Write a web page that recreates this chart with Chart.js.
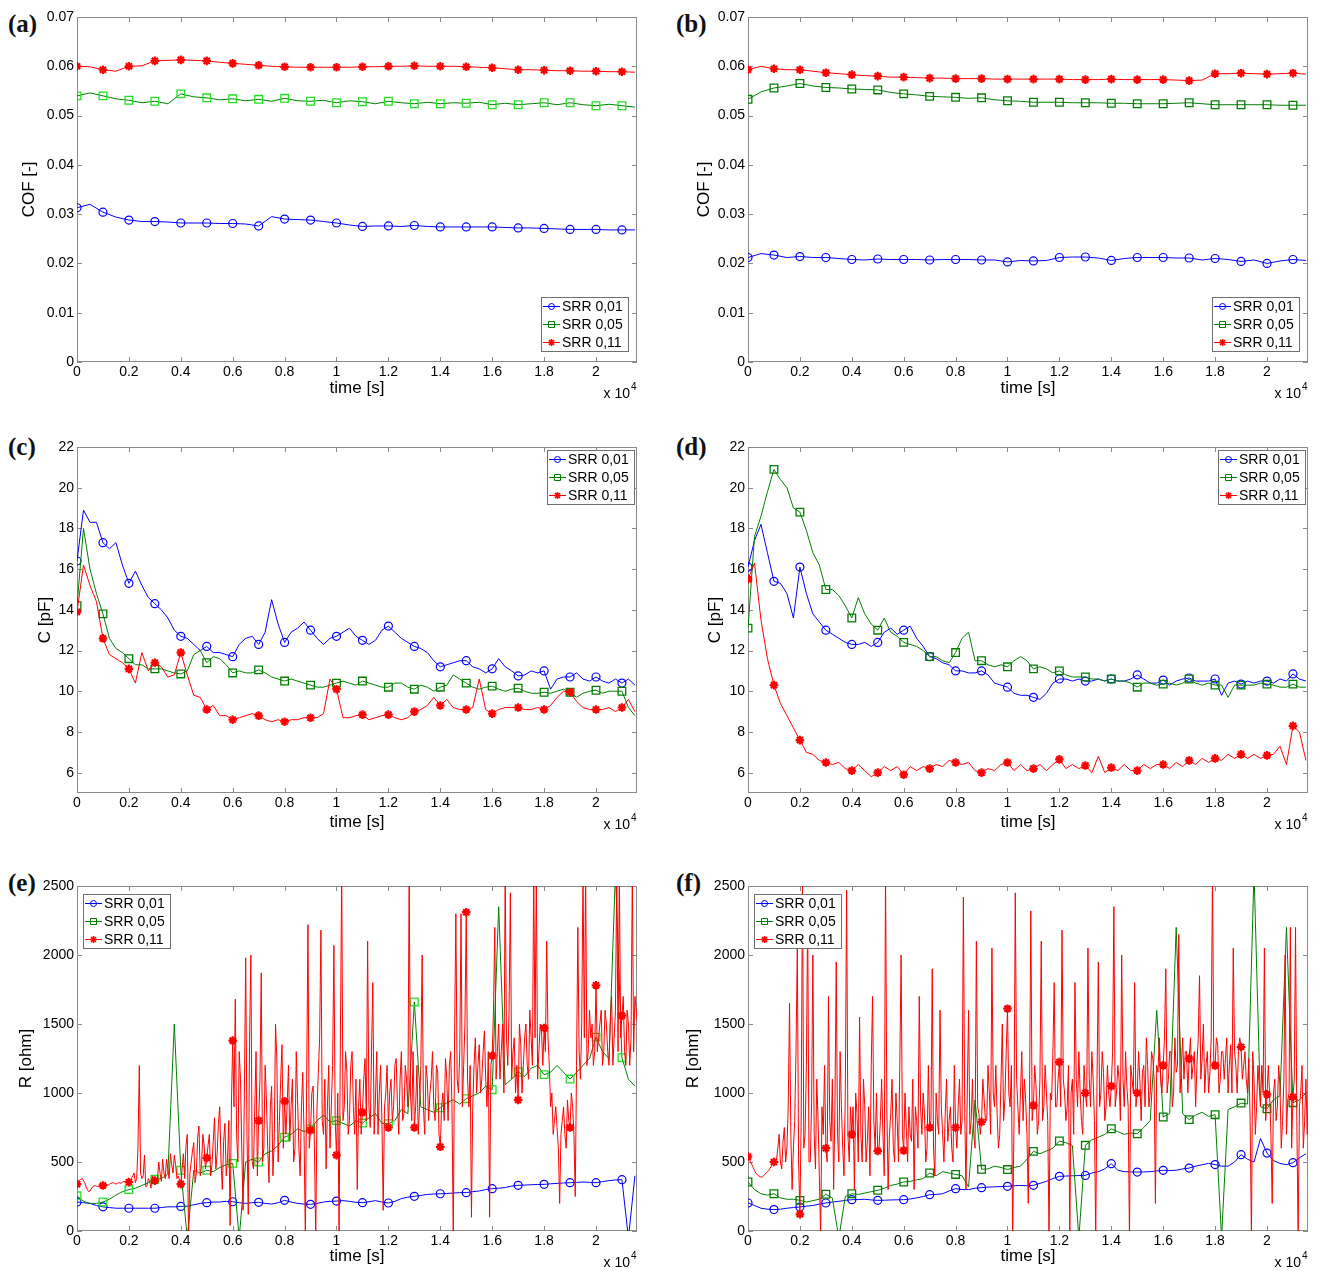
<!DOCTYPE html>
<html>
<head>
<meta charset="utf-8">
<title>COF, C and R versus time</title>
<script src="https://cdn.jsdelivr.net/npm/chart.js@4.4.1/dist/chart.umd.min.js"></script>
<style>
  html, body { margin: 0; padding: 0; background: #fff; overflow: hidden; }
  #page { position: relative; width: 1317px; height: 1271px; }
  canvas { position: absolute; }
  .tag { position: absolute; font: bold 25px 'Liberation Serif', 'Times New Roman', serif; line-height: 1; color: #111; }
</style>
</head>
<body>
<div id="page">
  <div class="tag" style="left:8px;top:11px">(a)</div>
  <div class="tag" style="left:676px;top:11px">(b)</div>
  <div class="tag" style="left:8px;top:434px">(c)</div>
  <div class="tag" style="left:676px;top:434px">(d)</div>
  <div class="tag" style="left:8px;top:870px">(e)</div>
  <div class="tag" style="left:676px;top:870px">(f)</div>
  <canvas id="chartA"></canvas>
  <canvas id="chartB"></canvas>
  <canvas id="chartC"></canvas>
  <canvas id="chartD"></canvas>
  <canvas id="chartE"></canvas>
  <canvas id="chartF"></canvas>
</div>
<script>
// sample spacing of the read-off values, in seconds
const STEP_COF = 500;
const STEP_CAP = 250;
const STEP_RES = 250;
const STEP_SPIKE = 50;
const X_MAX = 21580;

const seriesLabels = ['SRR 0,01', 'SRR 0,05', 'SRR 0,11'];
const timeTicks = [0, 2000, 4000, 6000, 8000, 10000, 12000, 14000, 16000, 18000, 20000];
const cofTicks = [0, 0.01, 0.02, 0.03, 0.04, 0.05, 0.06, 0.07];
const capTicks = [6, 8, 10, 12, 14, 16, 18, 20, 22];
const resTicks = [0, 500, 1000, 1500, 2000, 2500];

// (a) COF
const cofA_01 = [0.0313,0.0320,0.0304,0.0294,0.0288,0.0285,0.0285,0.0284,0.0282,0.0282,
  0.0282,0.0281,0.0281,0.0280,0.0276,0.0295,0.0290,0.0289,0.0288,0.0285,
  0.0282,0.0278,0.0275,0.0276,0.0276,0.0275,0.0277,0.0275,0.0274,0.0274,
  0.0274,0.0274,0.0274,0.0273,0.0272,0.0272,0.0271,0.0270,0.0269,0.0269,
  0.0269,0.0268,0.0268,0.0268];
const cofA_05 = [0.0540,0.0546,0.0540,0.0534,0.0531,0.0526,0.0529,0.0524,0.0544,0.0538,
  0.0536,0.0532,0.0534,0.0530,0.0533,0.0529,0.0535,0.0530,0.0529,0.0531,
  0.0526,0.0530,0.0528,0.0524,0.0529,0.0526,0.0524,0.0527,0.0524,0.0526,
  0.0525,0.0527,0.0522,0.0525,0.0522,0.0524,0.0526,0.0522,0.0526,0.0522,
  0.0520,0.0523,0.0520,0.0517];
const cofA_11 = [0.0600,0.0599,0.0593,0.0590,0.0600,0.0601,0.0611,0.0612,0.0613,0.0612,
  0.0611,0.0608,0.0606,0.0604,0.0602,0.0600,0.0599,0.0598,0.0598,0.0598,
  0.0598,0.0598,0.0599,0.0599,0.0600,0.0600,0.0601,0.0600,0.0600,0.0600,
  0.0599,0.0598,0.0597,0.0595,0.0593,0.0593,0.0592,0.0591,0.0591,0.0590,
  0.0590,0.0589,0.0589,0.0588];

// (b) COF
const cofB_01 = [0.0212,0.0220,0.0217,0.0212,0.0214,0.0212,0.0212,0.0210,0.0208,0.0207,
  0.0209,0.0208,0.0208,0.0208,0.0207,0.0208,0.0208,0.0208,0.0207,0.0207,
  0.0203,0.0206,0.0205,0.0206,0.0212,0.0213,0.0213,0.0211,0.0206,0.0210,
  0.0212,0.0212,0.0212,0.0211,0.0211,0.0207,0.0210,0.0208,0.0204,0.0207,
  0.0200,0.0205,0.0208,0.0206];
const cofB_05 = [0.0533,0.0548,0.0556,0.0560,0.0565,0.0560,0.0557,0.0556,0.0554,0.0553,
  0.0552,0.0547,0.0544,0.0542,0.0539,0.0538,0.0537,0.0535,0.0536,0.0532,
  0.0530,0.0529,0.0527,0.0527,0.0527,0.0526,0.0526,0.0526,0.0525,0.0525,
  0.0524,0.0524,0.0524,0.0525,0.0526,0.0524,0.0522,0.0522,0.0522,0.0522,
  0.0522,0.0521,0.0521,0.0521];
const cofB_11 = [0.0593,0.0600,0.0595,0.0593,0.0593,0.0590,0.0587,0.0585,0.0583,0.0581,
  0.0580,0.0578,0.0578,0.0577,0.0576,0.0576,0.0575,0.0575,0.0575,0.0574,
  0.0574,0.0574,0.0574,0.0574,0.0574,0.0573,0.0573,0.0573,0.0574,0.0573,
  0.0573,0.0573,0.0573,0.0572,0.0571,0.0572,0.0585,0.0585,0.0586,0.0585,
  0.0584,0.0585,0.0586,0.0584];

// (c) capacitance
const capC_01 = [16.4,18.9,18.3,18.3,17.3,17.0,17.3,16.2,15.3,15.9,
  15.2,14.6,14.3,14.0,13.6,13.0,12.7,12.6,12.3,12.0,
  12.2,11.9,11.9,11.8,11.7,12.3,12.6,12.7,12.3,12.9,
  14.5,13.3,12.4,12.9,13.1,13.4,13.0,12.6,12.3,12.6,
  12.7,12.9,13.1,12.7,12.5,12.3,12.5,13.0,13.2,12.9,
  12.6,12.4,12.2,12.1,11.9,11.5,11.2,11.3,11.4,11.5,
  11.5,11.2,11.1,10.9,11.1,11.6,11.2,11.0,10.75,10.8,
  11.0,10.9,11.0,10.1,10.6,10.7,10.7,10.9,10.6,10.5,
  10.7,10.5,10.4,10.6,10.4,10.6,10.3];
const capC_05 = [14.2,18.0,16.0,14.8,13.8,12.6,12.1,11.9,11.6,11.3,
  11.3,11.1,11.1,11.1,11.0,10.9,10.85,11.0,11.8,12.0,
  11.4,11.7,11.6,11.3,10.9,11.0,10.9,10.9,11.05,10.9,
  10.7,10.6,10.5,10.6,10.5,10.4,10.3,10.2,10.2,10.3,
  10.4,10.5,10.4,10.3,10.5,10.4,10.3,10.2,10.2,10.4,
  10.4,10.2,10.1,10.3,10.2,10.0,10.2,10.3,10.8,10.6,
  10.4,10.2,10.1,10.2,10.25,10.1,10.0,10.1,10.15,10.0,
  9.9,9.9,9.95,9.9,10.0,10.1,9.95,9.7,9.9,10.0,
  10.05,9.9,10.0,10.0,10.0,9.2,8.8];
const capC_11 = [13.9,16.2,15.2,14.4,12.6,11.8,11.6,11.4,11.1,10.4,
  11.9,11.0,11.4,11.2,10.7,10.8,11.9,10.8,9.8,9.7,
  9.1,9.3,8.8,8.8,8.6,8.7,8.8,8.9,8.8,8.6,
  8.5,8.6,8.5,8.6,8.6,8.7,8.7,8.7,8.9,10.6,
  10.1,8.7,8.7,8.8,8.85,8.6,8.7,8.8,8.85,8.7,
  8.6,8.7,9.0,9.1,9.3,9.7,9.3,9.6,9.2,9.1,
  9.1,9.2,10.6,9.1,8.9,9.1,9.2,9.2,9.2,9.1,
  9.1,9.2,9.1,9.3,9.7,10.0,9.95,9.5,9.2,9.1,
  9.1,9.1,9.2,9.0,9.2,9.6,9.0];

// (d) capacitance
const capD_01 = [16.1,17.4,18.2,16.8,15.4,15.3,14.8,13.6,16.1,14.8,
  13.8,13.4,13.0,12.8,12.6,12.4,12.3,12.3,12.4,12.2,
  12.4,12.9,13.1,12.8,13.0,13.2,12.6,12.2,11.7,11.6,
  11.4,11.3,11.0,11.0,10.9,10.9,11.0,10.8,10.4,10.3,
  10.2,9.9,9.8,9.8,9.7,9.6,9.9,10.4,10.6,10.6,
  10.5,10.6,10.5,10.5,10.6,10.5,10.6,10.5,10.5,10.6,
  10.8,10.6,10.4,10.4,10.55,10.3,10.5,10.6,10.65,10.5,
  10.5,10.5,10.6,9.8,10.4,10.5,10.35,10.5,10.4,10.5,
  10.5,10.4,10.6,10.5,10.85,10.6,10.5];
const capD_05 = [13.1,17.6,18.6,19.8,20.9,20.4,20.0,19.0,18.8,17.9,
  16.8,16.2,15.0,15.0,14.7,14.2,13.6,14.6,13.8,13.3,
  13.0,13.6,12.9,12.7,12.4,12.3,12.2,12.0,11.7,11.7,
  11.5,11.4,11.9,12.6,12.9,11.5,11.5,11.3,11.2,11.3,
  11.2,11.5,11.7,11.5,11.1,11.2,11.1,10.9,11.0,10.8,
  10.7,10.7,10.7,10.6,10.6,10.5,10.6,10.5,10.5,10.4,
  10.2,10.4,10.4,10.3,10.35,10.4,10.3,10.4,10.6,10.4,
  10.3,10.4,10.3,10.3,9.7,10.3,10.3,10.3,10.3,10.4,
  10.35,10.3,10.2,10.2,10.35,10.2,10.2];
const capD_11 = [15.5,16.3,13.5,11.6,10.3,9.4,8.8,8.2,7.6,7.0,
  6.9,6.6,6.5,6.4,6.5,6.2,6.1,6.4,6.1,5.8,
  6.0,6.3,6.1,6.3,5.9,6.3,6.1,6.3,6.2,6.4,
  6.3,6.6,6.5,6.4,6.5,6.1,6.0,6.2,6.1,6.4,
  6.5,6.1,6.4,6.1,6.2,6.4,6.1,6.4,6.65,6.2,
  6.4,6.2,6.35,6.0,6.8,6.0,6.25,6.1,6.4,6.1,
  6.1,6.4,6.2,6.4,6.4,6.2,6.5,6.3,6.6,6.4,
  6.7,6.5,6.7,6.6,6.9,6.7,6.9,6.7,6.9,6.7,
  6.85,6.9,7.3,6.4,8.3,8.0,6.6];

// (e) resistance
const resE_01 = [210,205,200,185,175,170,165,165,165,165,
  165,165,165,170,175,175,178,180,190,200,
  205,210,210,215,212,205,200,205,208,200,
  195,205,222,210,200,195,193,200,210,215,
  217,220,215,208,205,212,220,210,203,215,
  235,245,251,258,265,268,270,272,275,278,
  278,285,290,300,307,310,315,325,331,333,
  335,337,338,342,345,348,350,352,355,352,
  350,358,365,370,372,-50,400];
const resE_05 = [255,215,200,200,210,230,260,285,300,310,
  330,350,375,380,410,1500,440,-50,440,420,
  440,430,460,480,490,-50,500,520,500,560,
  580,620,680,700,740,720,740,800,840,790,
  800,780,760,800,782,820,850,780,778,800,
  880,850,1660,900,880,860,893,930,950,920,
  959,980,1000,1050,1024,2350,1060,1100,1152,1120,
  1180,1200,1133,1150,1200,1150,1101,1150,1200,1250,
  1405,1300,1250,2600,1256,1100,1050];
const resE_11 = [
  340,360,370,375,380,365,350,320,300,285,290,305,320,325,330,325,320,325,330,330,330,335,340,335,330,340,345,348,350,345,340,345,350,348,345,355,360,355,350,352,
  355,370,380,400,420,350,380,600,1200,420,380,400,550,320,330,380,360,310,400,380,365,360,380,500,420,360,520,420,380,520,450,380,560,480,420,550,480,380,400,370,
  340,450,560,380,620,700,-50,420,500,580,640,350,420,680,760,400,480,700,620,450,530,620,700,400,480,650,820,450,560,780,900,500,300,650,780,400,520,800,40,900,
  1380,900,1680,700,500,1300,1100,600,150,1000,1980,700,120,1400,2000,500,450,900,1300,400,800,1100,1870,500,600,1200,950,600,350,900,1050,400,650,1500,1250,500,800,1100,1350,600,
  940,700,920,1200,650,900,1100,500,600,1300,950,600,400,900,1150,700,-50,1100,2220,600,730,1000,1050,600,-50,900,1150,1400,2180,800,700,1100,450,900,1200,600,900,1200,2070,800,
  550,1000,-50,1400,2600,800,900,1300,1150,700,800,1200,1300,900,700,1100,300,900,1100,700,860,1100,1250,800,2100,900,750,1300,1800,700,950,1300,700,1000,1200,800,150,900,1000,1200,
  750,1000,1100,800,900,1200,1250,900,700,1100,1300,800,850,1200,1100,900,2600,1000,800,1300,750,900,1200,700,900,1200,2000,900,700,1200,1100,800,1000,1100,1300,900,800,1200,1150,700,
  610,900,1000,800,1250,1100,800,1200,1300,900,-50,1400,2300,1100,1000,1300,2300,900,1200,1500,2310,1100,900,1200,100,900,1200,1400,1000,1200,1350,1000,1100,1300,1450,1100,900,1300,100,1200,
  1270,1600,2200,1100,1300,1500,1100,1300,1500,1000,2600,1400,1200,1600,2450,1100,1300,1400,1000,1200,950,1500,1350,1000,1200,1400,1500,1200,1100,1600,1400,1200,2600,1400,2600,1100,1300,1500,1450,1200,
  1470,1300,2100,1400,1200,900,1000,700,800,900,750,600,200,700,800,900,700,600,950,800,750,1000,900,700,250,1200,2200,1300,1100,1500,2600,1400,2600,1200,1300,1600,1400,1500,1200,1300,
  1780,1300,1400,1500,1600,1200,1300,1600,1500,1300,1200,1500,1700,1200,1400,1600,2600,1300,2600,1400,1560,1700,1300,1200,1600,1500,1200,1400,2600,1300,1700,1600,1500];

// (f) resistance
const resF_01 = [203,185,165,158,155,158,165,170,174,180,
  185,195,203,210,215,222,227,228,230,225,
  222,223,225,226,227,232,240,250,263,265,
  270,290,307,300,300,310,314,318,320,322,
  324,328,330,328,331,345,360,380,396,398,
  400,402,403,420,430,450,488,440,430,428,
  427,428,430,435,440,438,440,450,456,470,
  480,490,481,470,470,500,553,520,500,670,
  565,510,490,480,495,530,560];
const resF_05 = [355,300,270,260,270,240,230,230,222,210,
  220,230,266,240,-50,250,270,265,275,285,
  295,310,330,340,355,360,370,380,420,400,
  430,420,410,400,320,950,447,450,470,460,
  445,460,470,520,577,560,580,600,652,640,
  620,-50,621,660,680,700,741,720,700,710,
  705,750,800,1600,826,850,2200,850,807,840,
  860,830,843,-50,880,900,927,920,2600,900,
  886,950,980,2200,930,950,1000];
const resF_11 = [
  540,520,500,480,460,440,420,410,400,395,390,392,400,410,420,430,440,455,470,485,500,510,520,600,700,500,450,650,750,500,600,900,1650,700,300,600,800,1300,2050,500,
  121,800,2600,600,700,1200,2300,500,500,900,2000,700,450,1100,800,400,-50,900,700,1200,600,500,1700,800,650,1100,300,900,1950,700,500,1300,900,600,400,1000,2470,700,500,900,
  700,900,300,1000,850,500,1550,700,500,1100,900,500,650,900,400,1200,1700,800,600,1000,580,600,800,1100,700,400,2600,900,300,700,850,1100,600,500,1000,800,500,1200,2000,700,
  584,1000,750,500,900,700,650,1100,300,900,800,600,1700,900,700,1000,850,500,600,1200,750,800,1900,600,400,1000,800,700,1600,900,700,500,850,1100,650,800,900,600,500,1200,
  750,600,900,1100,700,800,2420,900,300,1000,1600,700,800,1100,700,600,2100,900,850,700,790,1100,950,800,800,1200,1000,700,2050,1000,900,1200,850,600,700,1100,1500,800,950,1300,
  1611,1000,900,1200,-50,800,2450,1100,900,700,1000,1300,800,1100,950,700,200,1000,2320,800,910,1200,1050,700,800,1100,2100,800,900,1200,1000,800,-50,1000,950,1300,1800,900,900,1100,
  1224,900,2180,1100,1000,800,900,1200,-50,1000,1100,700,1800,1100,900,1300,1000,800,700,1200,1000,900,2050,1100,900,1300,1100,800,-50,1100,1950,900,1000,1300,1150,800,900,1200,1000,900,
  1050,1300,2350,900,1000,1200,1100,800,2000,1100,900,1300,1050,900,-50,1200,1100,1000,1800,900,1000,1300,1100,800,1150,1200,900,1400,1200,900,1000,1300,1250,1100,200,1200,1150,1400,1100,1000,
  1200,1400,1900,1000,1100,1300,1300,900,1000,1400,1150,1200,2150,1000,1200,1400,1100,1300,1300,1000,1249,1400,1100,1200,1300,900,1200,1400,1850,1100,1250,1500,1000,1200,1300,1000,1150,1400,2600,1200,
  1200,1400,1350,1000,1100,1300,1300,1100,1250,1400,1000,1200,1350,1000,2050,1300,1200,1000,1300,1400,1333,1100,1200,1300,1100,1000,1250,800,-50,1300,1100,700,900,1200,1050,900,1200,1000,2050,800,
  990,1200,1000,700,200,1000,1100,800,900,1200,1050,600,800,1100,2000,700,950,1000,2200,600,971,1100,2200,800,-50,900,1000,1200,600,800,1100,700,1000];

const TEXT = '#000';
const FRAME = '#8a8a8a';
const LIGHT_GREEN = '#22e022';
const styles = [
  { color: '#0000ff', pointStyle: 'circle', radius: 4, pointBorderWidth: 1.2, legendR: 3 },
  { color: '#007f00', pointStyle: 'rect', radius: 5.4, pointBorderWidth: 1.3, legendR: 3 },
  { color: '#ff0000', pointStyle: 'star', radius: 4.3, pointBorderWidth: 2.2, legendR: 3.5 }
];

Chart.defaults.font.family = '"Liberation Sans", Arial, sans-serif';
Chart.defaults.color = TEXT;

function drawMarker(ctx, style, x, y, r) {
  ctx.beginPath();
  if (style === 'circle') {
    ctx.arc(x, y, r, 0, Math.PI * 2);
  } else if (style === 'rect') {
    ctx.rect(x - r, y - r, 2 * r, 2 * r);
  } else {
    for (let k = 0; k < 4; k++) {
      const a = k * Math.PI / 4;
      ctx.moveTo(x - r * Math.cos(a), y - r * Math.sin(a));
      ctx.lineTo(x + r * Math.cos(a), y + r * Math.sin(a));
    }
  }
  ctx.stroke();
}

// box, inward ticks, boxed legend and the "x 10^4" exponent, MATLAB style
const matlabFrame = {
  id: 'matlabFrame',
  beforeDatasetsDraw(chart) {
    const { ctx, chartArea: a, scales: { x, y } } = chart;
    ctx.save();
    ctx.strokeStyle = FRAME;
    ctx.lineWidth = 1;
    ctx.beginPath();
    x.ticks.forEach(t => {
      const px = Math.round(x.getPixelForValue(t.value)) + 0.5;
      ctx.moveTo(px, a.top); ctx.lineTo(px, a.top + 5);
      ctx.moveTo(px, a.bottom); ctx.lineTo(px, a.bottom - 5);
    });
    y.ticks.forEach(t => {
      const py = Math.round(y.getPixelForValue(t.value)) + 0.5;
      ctx.moveTo(a.left, py); ctx.lineTo(a.left + 5, py);
      ctx.moveTo(a.right, py); ctx.lineTo(a.right - 5, py);
    });
    ctx.stroke();
    ctx.strokeRect(a.left + 0.5, a.top + 0.5, a.right - a.left - 1, a.bottom - a.top - 1);
    ctx.restore();
  },
  afterDraw(chart, args, opts) {
    const { ctx, chartArea: a } = chart;
    ctx.save();
    // exponent label
    ctx.fillStyle = TEXT;
    ctx.textBaseline = 'alphabetic';
    ctx.textAlign = 'right';
    ctx.font = '14px "Liberation Sans", Arial, sans-serif';
    ctx.fillText('x 10', a.right - 7, a.bottom + 36);
    ctx.textAlign = 'left';
    ctx.font = '10px "Liberation Sans", Arial, sans-serif';
    ctx.fillText('4', a.right - 6, a.bottom + 28);

    // legend
    const lg = opts.legend;
    const w = 88, h = 55;
    const bx = lg.corner[1] === 'w' ? a.left + lg.dx : a.right - lg.dx - w;
    const by = lg.corner[0] === 'n' ? a.top + lg.dy : a.bottom - lg.dy - h;
    ctx.fillStyle = '#fff';
    ctx.fillRect(bx, by, w, h);
    ctx.strokeStyle = '#707070';
    ctx.lineWidth = 1;
    ctx.strokeRect(bx + 0.5, by + 0.5, w - 1, h - 1);
    ctx.font = '14px "Liberation Sans", Arial, sans-serif';
    ctx.textBaseline = 'middle';
    chart.data.datasets.forEach((ds, k) => {
      const st = styles[k];
      const yy = by + 9.5 + k * 18;
      ctx.strokeStyle = st.color;
      ctx.lineWidth = 1;
      ctx.beginPath();
      ctx.moveTo(bx + 2, yy); ctx.lineTo(bx + 19, yy);
      ctx.stroke();
      ctx.lineWidth = st.pointStyle === 'star' ? 1.6 : 1;
      drawMarker(ctx, st.pointStyle, bx + 10.5, yy, st.legendR);
      ctx.fillStyle = TEXT;
      ctx.fillText(ds.label, bx + 21, yy + 1);
    });
    ctx.restore();
  }
};

const panels = [
  { id: 'chartA', left: 0, top: 0, w: 660, h: 405, yAxisW: 77, padRight: 23, yTitle: 'COF [-]', yTitlePad: 19, xTitlePad: 6,
    yMin: 0, yMax: 0.07, yTicks: cofTicks, fmt: v => (v === 0 ? '0' : v.toFixed(2)), lightGreen: true,
    series: [[cofA_01, STEP_COF], [cofA_05, STEP_COF], [cofA_11, STEP_COF]], legend: { corner: 'se', dx: 8, dy: 10 } },
  { id: 'chartB', left: 660, top: 0, w: 657, h: 405, yAxisW: 88, padRight: 9, yTitle: 'COF [-]', yTitlePad: 34, xTitlePad: 6,
    yMin: 0, yMax: 0.07, yTicks: cofTicks, fmt: v => (v === 0 ? '0' : v.toFixed(2)), lightGreen: false,
    series: [[cofB_01, STEP_COF], [cofB_05, STEP_COF], [cofB_11, STEP_COF]], legend: { corner: 'se', dx: 8, dy: 10 } },
  { id: 'chartC', left: 0, top: 430, w: 660, h: 406, yAxisW: 77, padRight: 23, yTitle: 'C [pF]', yTitlePad: 35, xTitlePad: 3.5,
    yMin: 5, yMax: 22, yTicks: capTicks, fmt: v => String(v), lightGreen: false,
    series: [[capC_01, STEP_CAP], [capC_05, STEP_CAP], [capC_11, STEP_CAP]], legend: { corner: 'ne', dx: 2, dy: 3 } },
  { id: 'chartD', left: 660, top: 430, w: 657, h: 406, yAxisW: 88, padRight: 9, yTitle: 'C [pF]', yTitlePad: 45, xTitlePad: 3.5,
    yMin: 5, yMax: 22, yTicks: capTicks, fmt: v => String(v), lightGreen: false,
    series: [[capD_01, STEP_CAP], [capD_05, STEP_CAP], [capD_11, STEP_CAP]], legend: { corner: 'ne', dx: 2, dy: 3 } },
  { id: 'chartE', left: 0, top: 869, w: 660, h: 405, yAxisW: 77, padRight: 23, yTitle: 'R [ohm]', yTitlePad: 16, xTitlePad: 7,
    yMin: 0, yMax: 2500, yTicks: resTicks, fmt: v => String(v), lightGreen: true,
    series: [[resE_01, STEP_RES], [resE_05, STEP_RES], [resE_11, STEP_SPIKE]], legend: { corner: 'nw', dx: 6, dy: 8 } },
  { id: 'chartF', left: 660, top: 869, w: 657, h: 405, yAxisW: 88, padRight: 9, yTitle: 'R [ohm]', yTitlePad: 23, xTitlePad: 7,
    yMin: 0, yMax: 2500, yTicks: resTicks, fmt: v => String(v), lightGreen: false,
    series: [[resF_01, STEP_RES], [resF_05, STEP_RES], [resF_11, STEP_SPIKE]], legend: { corner: 'nw', dx: 6, dy: 8 } }
];

panels.forEach(p => {
  const canvas = document.getElementById(p.id);
  canvas.width = p.w;
  canvas.height = p.h;
  canvas.style.left = p.left + 'px';
  canvas.style.top = p.top + 'px';
  canvas.style.width = p.w + 'px';
  canvas.style.height = p.h + 'px';

  const datasets = p.series.map(([values, step], k) => {
    const st = styles[k];
    const markerColor = k === 1 && p.lightGreen ? LIGHT_GREEN : st.color;
    return {
      label: seriesLabels[k],
      data: values.map((v, i) => ({ x: i * step, y: v })),
      borderColor: st.color,
      borderWidth: 1,
      tension: 0,
      pointStyle: st.pointStyle,
      pointRadius: c => (c.raw && c.raw.x % 1000 === 0 ? st.radius : 0),
      pointBorderColor: markerColor,
      pointBackgroundColor: 'rgba(0,0,0,0)',
      pointBorderWidth: st.pointBorderWidth,
      order: 2 - k
    };
  });

  new Chart(canvas, {
    type: 'line',
    data: { datasets },
    options: {
      responsive: false,
      animation: false,
      events: [],
      devicePixelRatio: 1,
      layout: { padding: { top: 17, right: p.padRight, left: 0, bottom: 0 } },
      plugins: {
        legend: { display: false },
        tooltip: { enabled: false },
        matlabFrame: { legend: p.legend }
      },
      scales: {
        x: {
          type: 'linear',
          min: 0,
          max: X_MAX,
          afterBuildTicks: s => { s.ticks = timeTicks.map(v => ({ value: v })); },
          afterFit: s => { s.height = 43; },
          grid: { display: false, drawTicks: false },
          border: { display: false },
          ticks: { padding: 2, color: TEXT, font: { size: 14 }, maxRotation: 0, autoSkip: false,
                   callback: v => String(v / 10000) },
          title: { display: true, text: 'time [s]', color: TEXT, font: { size: 17 },
                   padding: { top: 0, bottom: p.xTitlePad } }
        },
        y: {
          min: p.yMin,
          max: p.yMax,
          afterBuildTicks: s => { s.ticks = p.yTicks.map(v => ({ value: v })); },
          afterFit: s => { s.width = p.yAxisW; },
          grid: { display: false, drawTicks: false },
          border: { display: false },
          ticks: { padding: 3, color: TEXT, font: { size: 14 }, autoSkip: false, callback: p.fmt },
          title: { display: true, text: p.yTitle, color: TEXT, font: { size: 17 },
                   padding: { top: p.yTitlePad, bottom: 0 } }
        }
      }
    },
    plugins: [matlabFrame]
  });
});
</script>
</body>
</html>
